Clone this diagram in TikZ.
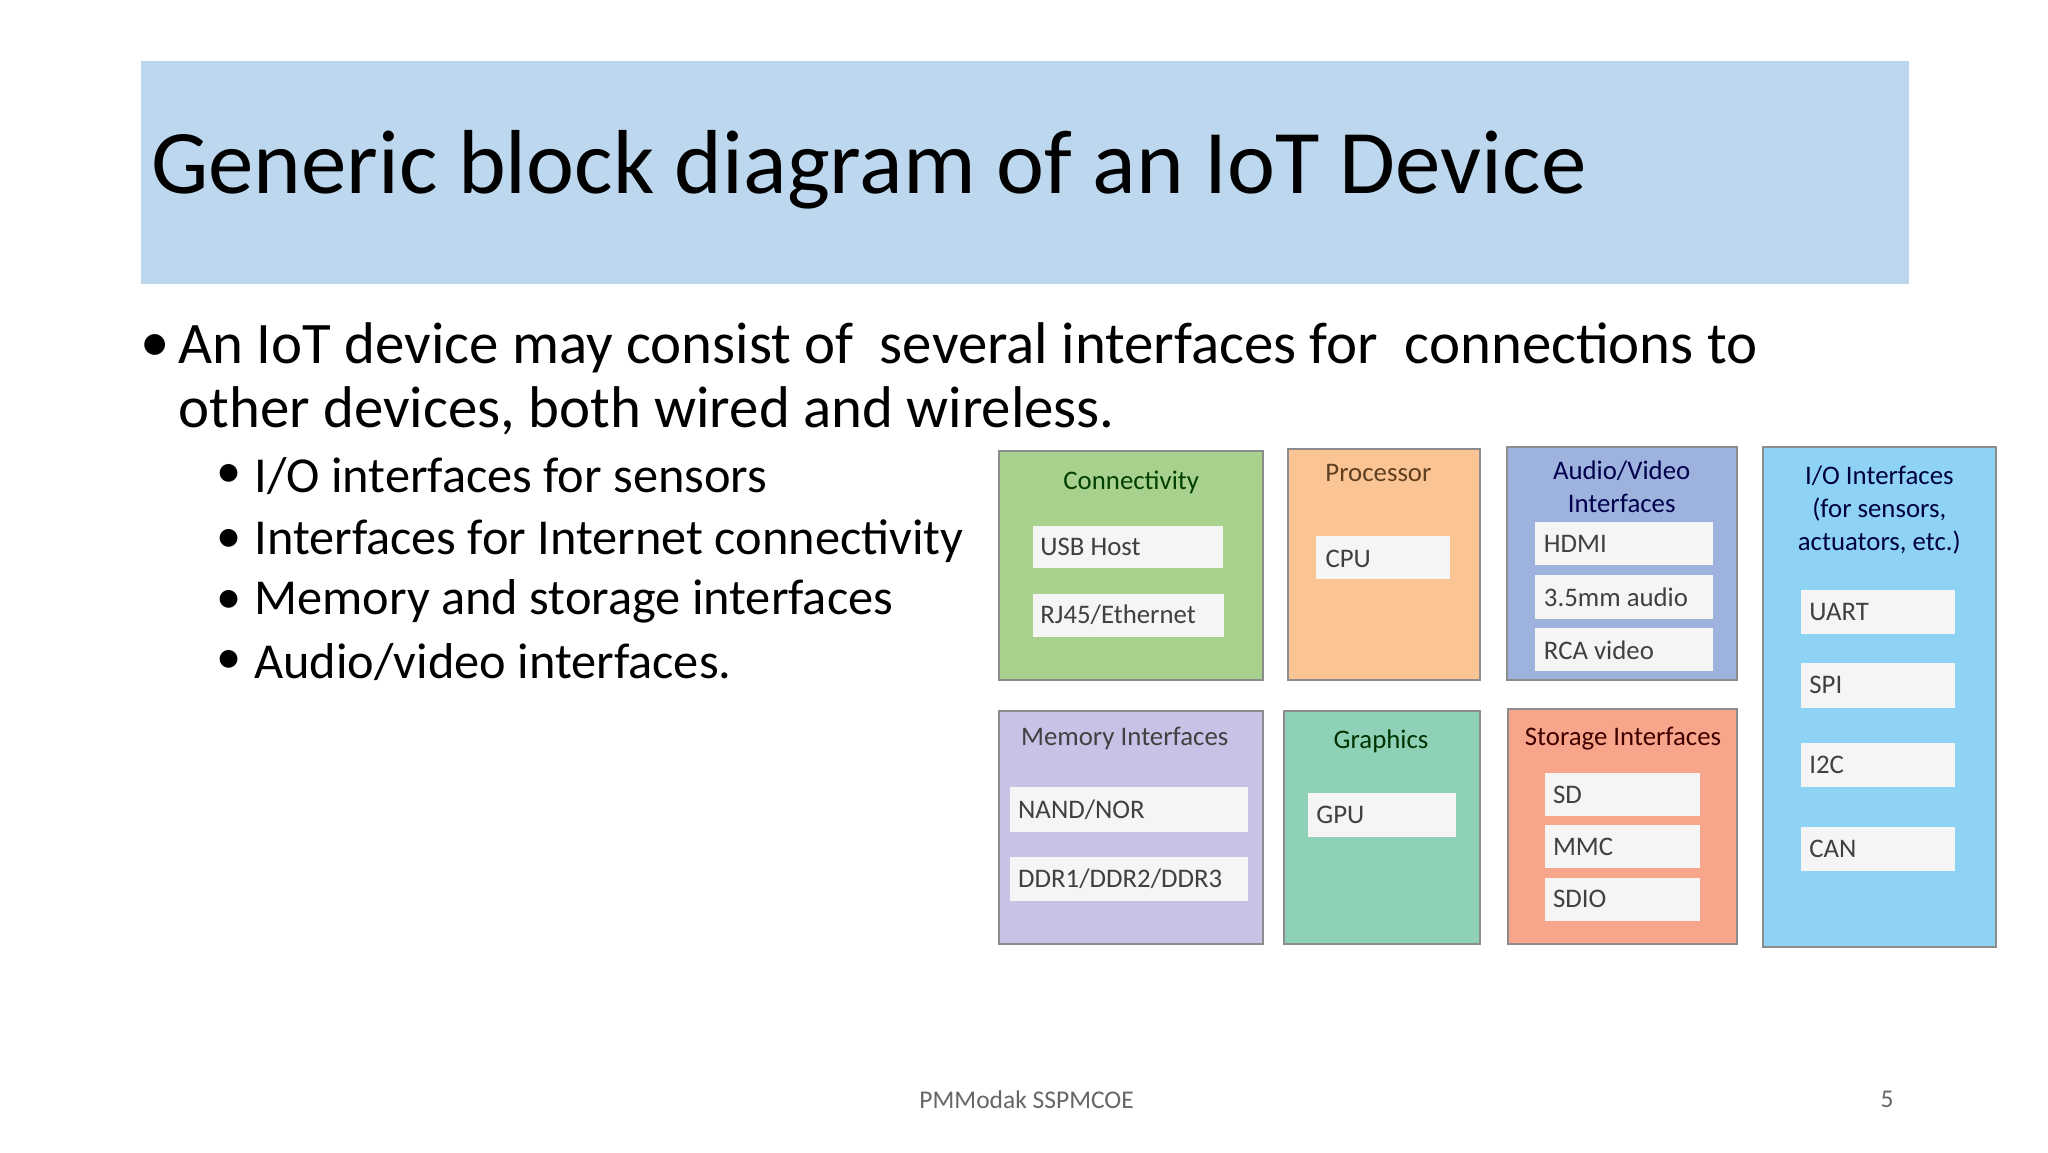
\documentclass[tikz,border=0pt]{standalone}
\usepackage{fontspec}
\setmainfont{Carlito}
\begin{document}
\begin{tikzpicture}[x=1pt,y=-1pt,
  blk/.style={draw=black!45,line width=1.5pt},
  wb/.style={fill=white!96!black,draw=none},
  wl/.style={anchor=west,font=\fontsize{20.5}{22}\selectfont,text=black!75},
  bt/.style={align=center,font=\fontsize{20.5}{25}\selectfont},
  b1/.style={anchor=west,font=\fontsize{45}{50}\selectfont},
  b2/.style={anchor=west,font=\fontsize{38.5}{42}\selectfont}]
\useasboundingbox (0,0) rectangle (1566,881);
\fill[white] (0,0) rectangle (1566,881);
\fill[fill={rgb,255:red,189;green,215;blue,238}] (108,47) rectangle (1460,217);
\node[anchor=west,font=\fontsize{69.5}{80}\selectfont] (title) at (112,130) {Generic block diagram of an IoT Device};
\node[b1] (d1) at (104,266) {•};
\node[b1] (t1) at (133,266) {An IoT device may consist of \ several interfaces for \ connections to};
\node[b1] (t2) at (133,314) {other devices, both wired and wireless.};
\foreach \yy/\tt [count=\i] in {364/{I/O interfaces for sensors},414/{Interfaces for Internet connectivity},460/{Memory and storage interfaces},506/{Audio/video interfaces.}}{
  \node[b2] (sb\i) at (162,\yy) {•};
  \node[b2] (s\i) at (191,\yy) {\tt};
}
\definecolor{cg}{RGB}{169,209,142}
\definecolor{co}{RGB}{250,196,148}
\definecolor{cb}{RGB}{158,178,222}
\definecolor{cl}{RGB}{142,211,244}
\definecolor{cm}{RGB}{198,195,230}
\definecolor{ct}{RGB}{142,209,182}
\definecolor{cs}{RGB}{247,166,140}
\draw[blk,fill=cg] (764,345) rectangle (966,520);
\node[bt,text=green!25!black] (conn) at (865,369) {Connectivity};
\fill[wb] (790,402) rectangle (935,434); \node[wl] (usb) at (792,418) {USB Host};
\fill[wb] (790,454) rectangle (936,487); \node[wl] (rj) at (792,470) {RJ45/Ethernet};
\draw[blk,fill=co] (985,343) rectangle (1132,520);
\node[bt,text=brown!50!black] (proc) at (1054,362) {Processor};
\fill[wb] (1006,410) rectangle (1109,443); \node[wl] (cpu) at (1010,427) {CPU};
\draw[blk,fill=cb] (1152,342) rectangle (1328,520);
\node[bt,text=blue!30!black] (av) at (1240,372) {Audio/Video\\Interfaces};
\fill[wb] (1174,399) rectangle (1310,432); \node[wl] (hdmi) at (1177,416) {HDMI};
\fill[wb] (1174,440) rectangle (1310,473); \node[wl] (aud) at (1177,457) {3.5mm audio};
\fill[wb] (1174,480) rectangle (1310,513); \node[wl] (rca) at (1177,497) {RCA video};
\draw[blk,fill=cl] (1348,342) rectangle (1526,724);
\node[bt,text=blue!25!black] (io) at (1437,390) {I/O Interfaces\\(for sensors,\\actuators, etc.)};
\foreach \yy/\tt [count=\i] in {451/UART,507/SPI,568/I2C,632/CAN}{
  \fill[wb] (1377,\yy) rectangle (1495,\yy+34); \node[wl] (io\i) at (1380,\yy+17) {\tt};
}
\draw[blk,fill=cm] (764,544) rectangle (966,722);
\node[bt,text=black!75] (mem) at (860,565) {Memory Interfaces};
\fill[wb] (772,602) rectangle (954,636); \node[wl] (nand) at (775,619) {NAND/NOR};
\fill[wb] (772,655) rectangle (954,689); \node[wl] (ddr) at (775,672) {DDR1/DDR2/DDR3};
\draw[blk,fill=ct] (982,544) rectangle (1132,722);
\node[bt,text=green!20!black] (gr) at (1056,567) {Graphics};
\fill[wb] (1000,606) rectangle (1113,640); \node[wl] (gpu) at (1003,623) {GPU};
\draw[blk,fill=cs] (1153,542) rectangle (1328,722);
\node[bt,text=red!25!black] (st) at (1241,565) {Storage Interfaces};
\foreach \yy/\tt [count=\i] in {591/SD,631/MMC,671/SDIO}{
  \fill[wb] (1181,\yy) rectangle (1300,\yy+33); \node[wl] (st\i) at (1184,\yy+16.5) {\tt};
}
\node[font=\fontsize{19.5}{22}\selectfont,text=black!60] (foot) at (785,841) {PMModak SSPMCOE};
\node[font=\fontsize{19.5}{22}\selectfont,text=black!60] (pg) at (1443,841) {5};
\end{tikzpicture}
\end{document}
